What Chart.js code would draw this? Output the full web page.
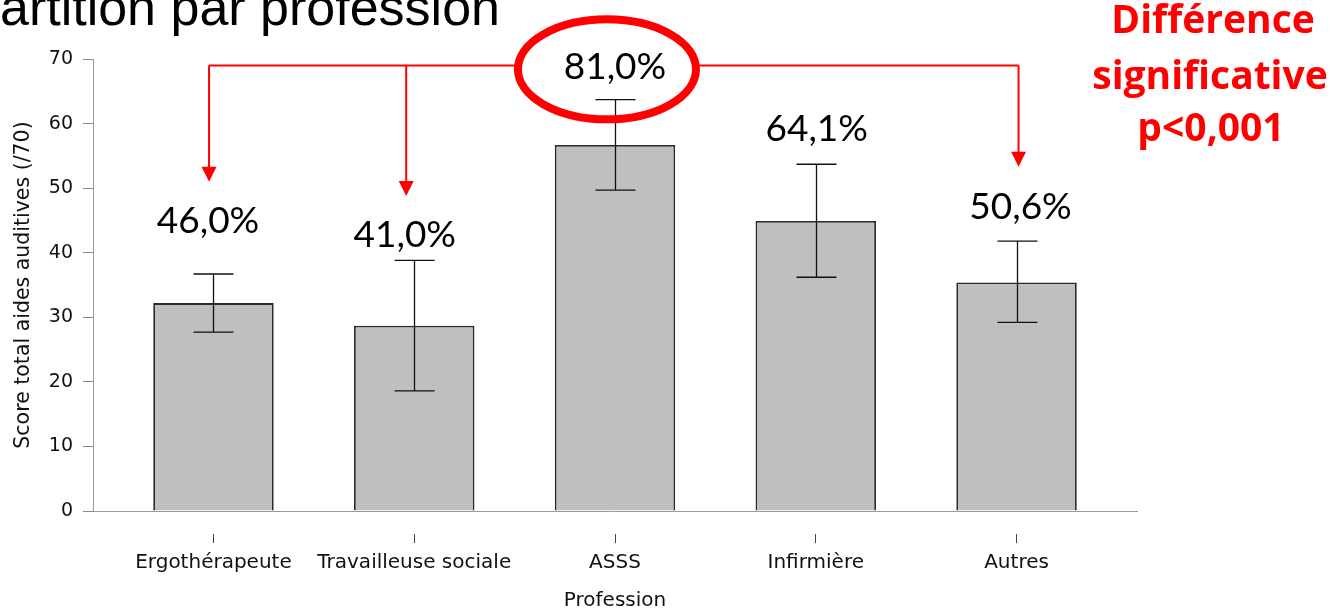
<!DOCTYPE html>
<html><head><meta charset="utf-8">
<script src="https://cdn.jsdelivr.net/npm/chart.js@4.4.1/dist/chart.umd.min.js"></script>
<style>html,body{margin:0;padding:0;background:#fff;overflow:hidden;}</style>
</head><body>
<canvas id="c" width="1338" height="609" style="display:block;width:1338px;height:609px"></canvas>
<script>
// ---- data ----
const categories = ['Ergothérapeute', 'Travailleuse sociale', 'ASSS', 'Infirmière', 'Autres'];
const means = [32.2, 28.7, 56.7, 44.9, 35.4];
const errLow = [27.7, 18.6, 49.7, 36.2, 29.2];
const errHigh = [36.7, 38.8, 63.7, 53.7, 41.8];
const pctLabels = ['46,0%', '41,0%', '81,0%', '64,1%', '50,6%'];
const yTicks = [0, 10, 20, 30, 40, 50, 60, 70];

// ---- annotation layout (axis units) ----
const pctAnchor = [[-0.027, 43.05], [0.953, 40.9], [2.0, 66.9], [3.005, 57.3], [4.02, 45.2]];
const bracketY = 69;
const arrowX = [-0.022, 0.96, 4.01];
const arrowTip = [51.0, 48.8, 53.3];
const ellipseAt = [1.96, 68.4];

const annot = {
  id: 'annot',
  afterDatasetsDraw(chart) {
    const {ctx, scales: {x, y}} = chart;
    ctx.save();
    // error bars
    ctx.strokeStyle = '#111';
    ctx.lineWidth = 1.3;
    for (let i = 0; i < means.length; i++) {
      const px = Math.round(x.getPixelForValue(i)) + 0.5;
      const t = y.getPixelForValue(errHigh[i]);
      const b = y.getPixelForValue(errLow[i]);
      ctx.beginPath();
      ctx.moveTo(px, t); ctx.lineTo(px, b);
      ctx.moveTo(px - 20, t); ctx.lineTo(px + 20, t);
      ctx.moveTo(px - 20, b); ctx.lineTo(px + 20, b);
      ctx.stroke();
    }
    // percent labels
    ctx.fillStyle = '#000';
    ctx.font = '37px Lato';
    ctx.textAlign = 'center';
    ctx.textBaseline = 'alphabetic';
    pctLabels.forEach((s, i) => {
      ctx.fillText(s, x.getPixelForValue(pctAnchor[i][0]), y.getPixelForValue(pctAnchor[i][1]));
    });
    // red bracket
    const ex = x.getPixelForValue(ellipseAt[0]);
    const ey = y.getPixelForValue(ellipseAt[1]);
    const rx = 89, ry = 50;
    const by = y.getPixelForValue(bracketY);
    ctx.strokeStyle = '#ff0000';
    ctx.fillStyle = '#ff0000';
    ctx.lineWidth = 2;
    const xs = arrowX.map(v => x.getPixelForValue(v));
    ctx.beginPath();
    ctx.moveTo(xs[0], by); ctx.lineTo(ex - rx, by);
    ctx.moveTo(ex + rx, by); ctx.lineTo(xs[2], by);
    ctx.stroke();
    xs.forEach((ax, i) => {
      const tip = y.getPixelForValue(arrowTip[i]);
      ctx.beginPath();
      ctx.moveTo(ax, by); ctx.lineTo(ax, tip - 12);
      ctx.stroke();
      ctx.beginPath();
      ctx.moveTo(ax - 7.5, tip - 15); ctx.lineTo(ax + 7.5, tip - 15); ctx.lineTo(ax, tip);
      ctx.closePath(); ctx.fill();
    });
    ctx.lineWidth = 8;
    ctx.beginPath();
    ctx.ellipse(ex, ey, rx, ry, 0, 0, Math.PI * 2);
    ctx.stroke();
    ctx.restore();

    // slide text
    ctx.save();
    ctx.fillStyle = '#000';
    ctx.font = '52px "Liberation Sans"';
    ctx.textAlign = 'right';
    ctx.textBaseline = 'alphabetic';
    ctx.fillText('Répartition par profession', 500, 25);
    ctx.fillStyle = '#ff0000';
    ctx.font = 'bold 39px "Open Sans"';
    ctx.textAlign = 'center';
    ctx.fillText('Différence', 1213, 33);
    ctx.fillText('significative', 1210, 89);
    ctx.fillText('p<0,001', 1211, 141);
    ctx.restore();
  }
};

new Chart(document.getElementById('c'), {
  type: 'bar',
  data: {
    datasets: [{
      data: means.map((m, i) => ({x: i, y: m})),
      backgroundColor: '#bfbfbf',
      borderColor: '#2a2a2a',
      borderWidth: 1.8,
      barPercentage: 0.6,
      categoryPercentage: 1
    }]
  },
  options: {
    responsive: false,
    animation: false,
    layout: {padding: {top: 59, right: 201, bottom: 0, left: 0}},
    plugins: {legend: {display: false}, tooltip: {enabled: false}},
    scales: {
      x: {
        type: 'linear', min: -0.6, max: 4.6, offset: false,
        afterBuildTicks: s => { s.ticks = categories.map((c, i) => ({value: i})); },
        afterFit: s => { s.height = 98; },
        ticks: {
          callback: v => categories[v] ?? '',
          autoSkip: false, maxRotation: 0, padding: 8,
          color: '#111', font: {family: 'DejaVu Sans', size: 20}
        },
        grid: {offset: false, drawOnChartArea: false, drawTicks: true, tickLength: 32, tickColor: '#444', tickWidth: 1, tickBorderDash: [0, 22, 10, 200]},
        border: {display: true, color: '#9a9a9a', width: 1},
        title: {display: true, text: 'Profession', color: '#111', font: {family: 'DejaVu Sans', size: 20}, padding: {top: 0, bottom: -4}}
      },
      y: {
        min: 0, max: 70,
        afterBuildTicks: s => { s.ticks = yTicks.map(v => ({value: v})); },
        afterFit: s => { s.width = 93; },
        ticks: {padding: 10, color: '#111', font: {family: 'DejaVu Sans', size: 19}},
        grid: {drawOnChartArea: false, drawTicks: true, tickLength: 10, tickColor: '#8a8a8a'},
        border: {display: true, color: '#9a9a9a', width: 1},
        title: {display: true, text: 'Score total aides auditives (/70)', color: '#111', font: {family: 'DejaVu Sans', size: 20.5}, padding: {top: 11, bottom: 0}}
      }
    }
  },
  plugins: [annot]
});
</script>
</body></html>
